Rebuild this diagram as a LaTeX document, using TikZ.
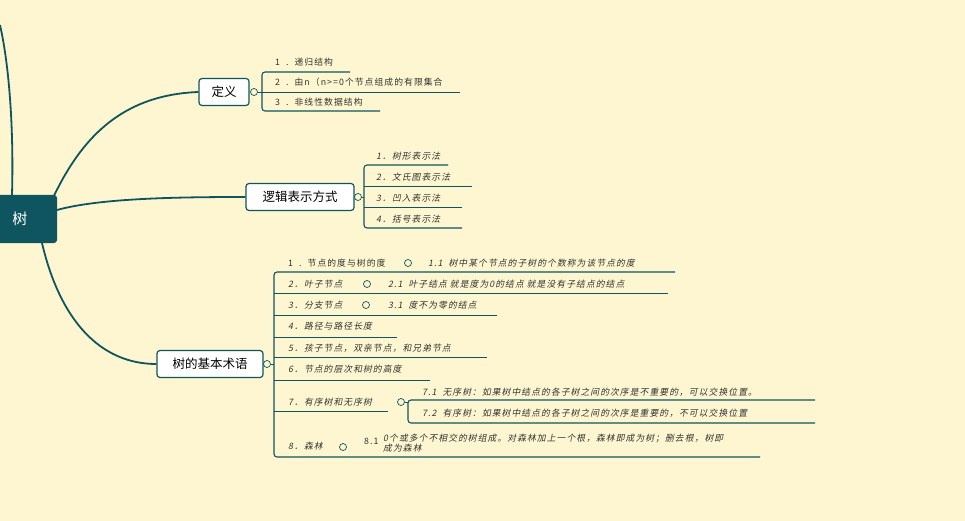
\documentclass[tikz,border=0pt]{standalone}
\usepackage{fontspec}
\setmainfont{Noto Sans CJK SC}
\newfontfamily\cjkr[LetterSpace=12]{Noto Sans CJK SC}
\newfontfamily\cjki[FakeSlant=0.2,LetterSpace=12]{Noto Sans CJK SC}
\definecolor{bg}{HTML}{FDF6D0}
\definecolor{tl}{HTML}{0F5560}
\definecolor{tx}{HTML}{333333}
\begin{document}
\begin{tikzpicture}[x=1pt,y=-1pt,
  br/.style={draw=tl,line width=1.1pt,rounded corners=3pt},
  ln/.style={draw=tl,line width=0.9pt},
  tp/.style={draw=tl,line width=1.8pt},
  bx/.style={draw=tl,line width=1.2pt,fill=white,rounded corners=3pt,text=black,font=\fontsize{12.5}{12}\selectfont,minimum height=27pt,inner xsep=3pt},
  cc/.style={circle,draw=tl,fill=bg,line width=0.7pt,inner sep=0pt,minimum size=7pt},
  it/.style={anchor=west,inner sep=0pt,text=tx,font=\cjkr\fontsize{8.8}{10}\selectfont},
  iti/.style={anchor=west,inner sep=0pt,text=tx,font=\cjki\fontsize{8.8}{10}\selectfont}]
\fill[bg] (0,0) rectangle (965,521);
\useasboundingbox (0,0) rectangle (965,521);
\begin{scope}
\clip (0,0) rectangle (965,521);
\draw[tp] (12,195) .. controls (14,120) and (8,60) .. (0,25);
\node[fill=tl,rounded corners=3pt,minimum width=80pt,minimum height=48pt,inner sep=0pt] (root) at (17,219) {};
\node[text=white,font=\fontsize{15}{15}\selectfont] (rt) at (20,219) {树};
\end{scope}
% boxes
\node[bx,minimum width=50pt] (d) at (224,92) {定义};
\node[bx,minimum width=108pt] (l) at (300,197) {逻辑表示方式};
\node[bx,minimum width=106pt] (s) at (210,364) {树的基本术语};
\draw[tp] (52,200) .. controls (80,140) and (120,95) .. (d.west);
\draw[tp] (57,210) .. controls (100,198) and (180,197) .. (l.west);
\draw[tp] (42,243) .. controls (60,320) and (100,364) .. (s.west);
% definition
\node[cc] (dc) at (254,92) {};
\draw[ln] (dc) -- (262,92);
\draw[br] (350,72) -- (262,72) -- (262,111) -- (380,111);
\draw[ln] (262,92) -- (460,92);
\node[it] (d1) at (275,62) {1\ \ .\ \ 递归结构};
\node[it] (d2) at (275,82) {2\ \ .\ \ 由n（n>=0个节点组成的有限集合};
\node[it] (d3) at (275,102) {3\ \ .\ \ 非线性数据结构};
% logic
\node[cc] (lc) at (358,197) {};
\draw[ln] (lc) -- (364,197);
\draw[br] (448,165) -- (364,165) -- (364,228) -- (462,228);
\draw[ln] (364,186) -- (472,186);
\draw[ln] (364,207) -- (462,207);
\node[iti] (l1) at (376,156) {1．树形表示法};
\node[iti] (l2) at (376,177) {2．文氏图表示法};
\node[iti] (l3) at (376,198) {3．凹入表示法};
\node[iti] (l4) at (376,219) {4．括号表示法};
% terms
\node[cc] (sc) at (267,364) {};
\draw[ln] (sc) -- (274,364);
\draw[br] (675,272) -- (274,272) -- (274,457) -- (760,457);
\foreach \y/\e in {293/668,315/497,337/397,357/487,380/430} \draw[ln] (274,\y) -- (\e,\y);
\draw[ln] (274,411) -- (388,411);
\node[it] (t1) at (288,263) {1\ \ .\ \ 节点的度与树的度};
\node[cc] (c1) at (408,263) {};
\node[iti] (t11) at (428,263) {1.1\ \ 树中某个节点的子树的个数称为该节点的度};
\node[iti] (t2) at (288,284) {2．叶子节点};
\node[cc] (c2) at (367,284) {};
\node[iti] (t21) at (388,284) {2.1\ \ 叶子结点 就是度为0的结点 就是没有子结点的结点};
\node[iti] (t3) at (288,305) {3．分支节点};
\node[cc] (c3) at (366,305) {};
\node[iti] (t31) at (388,305) {3.1\ \ 度不为零的结点};
\node[iti] (t4) at (288,326) {4．路径与路径长度};
\node[iti] (t5) at (288,348) {5．孩子节点，双亲节点，和兄弟节点};
\node[iti] (t6) at (288,369) {6．节点的层次和树的高度};
\node[iti] (t7) at (288,402) {7．有序树和无序树};
\node[cc] (c7) at (401,402) {};
\draw[ln] (c7) -- (408,402);
\draw[br] (815,400) -- (408,400) -- (408,423) -- (815,423);
\node[iti] (t71) at (422,392) {7.1\ \ 无序树：如果树中结点的各子树之间的次序是不重要的，可以交换位置。};
\node[iti] (t72) at (422,413) {7.2\ \ 有序树：如果树中结点的各子树之间的次序是重要的，不可以交换位置};
\node[iti] (t8) at (288,446) {8．森林};
\node[cc] (c8) at (343,447) {};
\node[it] (t81n) at (364,441) {8.1};
\node[iti,align=left] (t81) at (383,443) {0个或多个不相交的树组成。对森林加上一个根，森林即成为树；删去根，树即\\成为森林};
\end{tikzpicture}
\end{document}
